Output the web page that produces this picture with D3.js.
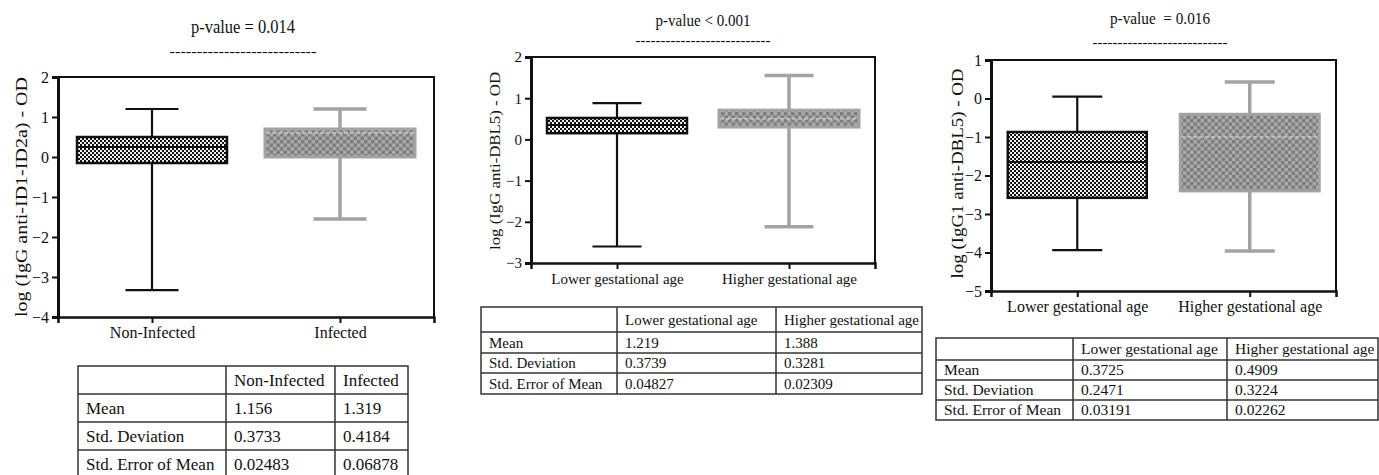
<!DOCTYPE html>
<html>
<head>
<meta charset="utf-8">
<script src="https://cdn.jsdelivr.net/npm/d3@7"></script>
<style>
  body { margin: 0; background: #fff; }
  svg, svg text { font-family: "Liberation Serif", "Times New Roman", serif; }
</style>
</head>
<body>
<div class="chart"></div>
<script>
// ---- data ----
var groups1 = ['Non-Infected', 'Infected']
var min1 = [-3.33, -1.55]
var q1_1 = [-0.15, 0.0]
var med1 = [0.25, 0.6]
var q3_1 = [0.5, 0.7]
var max1 = [1.2, 1.2]
var ticks1 = [-4, -3, -2, -1, 0, 1, 2]

var groups2 = ['Lower gestational age', 'Higher gestational age']
var min2 = [-2.6, -2.12]
var q1_2 = [0.15, 0.3]
var med2 = [0.35, 0.5]
var q3_2 = [0.52, 0.71]
var max2 = [0.88, 1.55]
var ticks2 = [-3, -2, -1, 0, 1, 2]

var groups3 = ['Lower gestational age', 'Higher gestational age']
var min3 = [-3.94, -3.96]
var q1_3 = [-2.58, -2.4]
var med3 = [-1.65, -1.0]
var q3_3 = [-0.87, -0.41]
var max3 = [0.05, 0.43]
var ticks3 = [-5, -4, -3, -2, -1, 0, 1]

var rowLabels = ['Mean', 'Std. Deviation', 'Std. Error of Mean']
var table1Mean = ['1.156', '1.319']
var table1SD = ['0.3733', '0.4184']
var table1SEM = ['0.02483', '0.06878']
var table2Mean = ['1.219', '1.388']
var table2SD = ['0.3739', '0.3281']
var table2SEM = ['0.04827', '0.02309']
var table3Mean = ['0.3725', '0.4909']
var table3SD = ['0.2471', '0.3224']
var table3SEM = ['0.03191', '0.02262']

var W = 1379, H = 475
var SERIF = '"Liberation Serif", "Times New Roman", serif'

var svg = d3.select('.chart').append('svg')
    .attr('width', W)
    .attr('height', H)

// checker patterns for the boxes
var defs = svg.append('defs')
var pb = defs.append('pattern').attr('id', 'checkBlack')
    .attr('patternUnits', 'userSpaceOnUse').attr('width', 4).attr('height', 4)
pb.append('rect').attr('width', 4).attr('height', 4).attr('fill', '#f2f2f2')
pb.append('rect').attr('width', 2).attr('height', 2).attr('fill', '#111')
pb.append('rect').attr('x', 2).attr('y', 2).attr('width', 2).attr('height', 2).attr('fill', '#111')

var pg = defs.append('pattern').attr('id', 'checkGray')
    .attr('patternUnits', 'userSpaceOnUse').attr('width', 7).attr('height', 7)
pg.append('rect').attr('width', 7).attr('height', 7).attr('fill', '#a9a9a9')
pg.append('rect').attr('width', 3.5).attr('height', 3.5).attr('fill', '#7e7e7e')
pg.append('rect').attr('x', 3.5).attr('y', 3.5).attr('width', 3.5).attr('height', 3.5).attr('fill', '#7e7e7e')

var styles = [
    {stroke: '#111', fill: 'url(#checkBlack)', boxW: 2.5, whW: 2.2, med: '#111', medW: 2, medDash: null},
    {stroke: '#a3a3a3', fill: 'url(#checkGray)', boxW: 3, whW: 3.5, med: '#c9c9c9', medW: 1.6, medDash: '4,2'}
]

function draw_panel(p) {
    var g = svg.append('g')

    var y = d3.scaleLinear().domain(p.domain).range([p.bottom, p.top])
    var x = d3.scalePoint().domain(p.groups).range([p.left, p.right]).padding(0.5)

    var boxes = p.groups.map(function(d, i) {
        return {name: d, lo: p.min[i], q1: p.q1[i], med: p.med[i], q3: p.q3[i], hi: p.max[i], s: styles[i]}
    })

    // frame (top, right)
    g.append('path')
        .attr('d', 'M' + p.left + ',' + p.top + 'H' + p.right + 'V' + p.bottom)
        .attr('fill', 'none').attr('stroke', '#111').attr('stroke-width', 2)

    // axes
    var yAx = g.append('g')
        .attr('transform', 'translate(' + p.left + ',0)')
        .call(d3.axisLeft(y).tickValues(p.ticks).tickSize(6).tickPadding(3).tickFormat(d3.format('d')))
        .attr('font-family', SERIF).attr('font-size', p.tickFont)
    var xAx = g.append('g')
        .attr('transform', 'translate(0,' + p.bottom + ')')
        .call(d3.axisBottom(x).tickSize(6).tickPadding(4))
        .attr('font-family', SERIF).attr('font-size', p.labelFont)
    yAx.select('.domain').attr('stroke-width', 3).attr('stroke', '#111')
    xAx.select('.domain').attr('stroke-width', 2.5).attr('stroke', '#111')
    g.selectAll('.tick line').attr('stroke-width', 2).attr('stroke', '#111')
    g.selectAll('.tick text').attr('fill', '#111')

    var bg = g.append('g').selectAll('g').data(boxes).enter().append('g')

    // whisker stem
    bg.append('line')
        .attr('x1', function(d){return x(d.name)}).attr('x2', function(d){return x(d.name)})
        .attr('y1', function(d){return y(d.lo)}).attr('y2', function(d){return y(d.hi)})
        .attr('stroke', function(d){return d.s.stroke}).attr('stroke-width', function(d){return d.s.whW})
    // caps
    bg.selectAll('.cap').data(function(d){return [d.lo, d.hi].map(function(v){return {v: v, b: d}})})
        .enter().append('line').attr('class', 'cap')
        .attr('x1', function(d){return x(d.b.name) - p.capW / 2})
        .attr('x2', function(d){return x(d.b.name) + p.capW / 2})
        .attr('y1', function(d){return y(d.v)}).attr('y2', function(d){return y(d.v)})
        .attr('stroke', function(d){return d.b.s.stroke}).attr('stroke-width', function(d){return d.b.s.whW})
    // box
    bg.append('rect')
        .attr('x', function(d){return x(d.name) - p.boxW / 2})
        .attr('width', p.boxW)
        .attr('y', function(d){return y(d.q3)})
        .attr('height', function(d){return y(d.q1) - y(d.q3)})
        .attr('fill', function(d){return d.s.fill})
        .attr('stroke', function(d){return d.s.stroke})
        .attr('stroke-width', function(d){return d.s.boxW})
    // median
    bg.append('line')
        .attr('x1', function(d){return x(d.name) - p.boxW / 2 + 1})
        .attr('x2', function(d){return x(d.name) + p.boxW / 2 - 1})
        .attr('y1', function(d){return y(d.med)}).attr('y2', function(d){return y(d.med)})
        .attr('stroke', function(d){return d.s.med}).attr('stroke-width', function(d){return d.s.medW})
        .attr('stroke-dasharray', function(d){return d.s.medDash})

    // y label
    g.append('text')
        .attr('transform', 'translate(' + p.ylabX + ',' + ((p.top + p.bottom) / 2 + p.ylabShift) + ') rotate(-90)')
        .attr('text-anchor', 'middle').attr('dy', '0.35em')
        .attr('font-size', p.ylabFont)
        .attr('textLength', p.ylabLen).attr('lengthAdjust', 'spacingAndGlyphs')
        .attr('fill', '#111')
        .text(p.ylabel)

    // p-value title and dashed rule
    g.append('text')
        .attr('x', p.titleX).attr('y', p.titleY)
        .attr('text-anchor', 'middle').attr('dy', '0.35em')
        .attr('font-size', p.titleFont).attr('fill', '#111')
        .style('white-space', 'pre')
        .attr('textLength', p.titleLen).attr('lengthAdjust', 'spacingAndGlyphs')
        .text(p.title)
    g.append('text')
        .attr('x', p.titleX).attr('y', p.dashY)
        .attr('text-anchor', 'middle').attr('dy', '0.35em')
        .attr('font-size', 14).attr('fill', '#111')
        .attr('textLength', p.dashLen).attr('lengthAdjust', 'spacingAndGlyphs')
        .text('---------------------------')
}

function draw_table(t) {
    var g = svg.append('g')
    var rows = [[''].concat(t.cols)].concat(rowLabels.map(function(r, i) {
        return [r].concat(t.values[i])
    }))
    var colX = d3.scaleOrdinal().domain([0, 1, 2, 3]).range(t.colX)
    var rowY = d3.scaleOrdinal().domain([0, 1, 2, 3, 4]).range(t.rowY)

    g.append('rect')
        .attr('x', colX(0)).attr('y', rowY(0))
        .attr('width', colX(3) - colX(0)).attr('height', rowY(4) - rowY(0))
        .attr('fill', 'none').attr('stroke', '#333').attr('stroke-width', 1.5)
    g.selectAll('.hl').data([1, 2, 3]).enter().append('line')
        .attr('x1', colX(0)).attr('x2', colX(3))
        .attr('y1', function(d){return rowY(d)}).attr('y2', function(d){return rowY(d)})
        .attr('stroke', '#333').attr('stroke-width', 1.5)
    g.selectAll('.vl').data([1, 2]).enter().append('line')
        .attr('y1', rowY(0)).attr('y2', rowY(4))
        .attr('x1', function(d){return colX(d)}).attr('x2', function(d){return colX(d)})
        .attr('stroke', '#333').attr('stroke-width', 1.5)

    rows.forEach(function(row, ri) {
        row.forEach(function(cell, ci) {
            g.append('text')
                .attr('x', colX(ci) + t.pad)
                .attr('y', (rowY(ri) + rowY(ri + 1)) / 2)
                .attr('dy', '0.35em')
                .attr('font-family', SERIF)
                .attr('font-size', t.font).attr('fill', '#111')
                .text(cell)
        })
    })
}

draw_panel({groups: groups1, min: min1, q1: q1_1, med: med1, q3: q3_1, max: max1, ticks: ticks1,
    domain: [-4, 2], left: 58, right: 434, top: 77, bottom: 317, boxW: 150, capW: 53,
    tickFont: 16, labelFont: 16,
    ylabel: 'log (IgG anti-ID1-ID2a) - OD', ylabX: 21, ylabShift: 0, ylabFont: 17, ylabLen: 240,
    title: 'p-value = 0.014', titleX: 243, titleY: 27, titleFont: 18, titleLen: 104, dashY: 51, dashLen: 147})

draw_panel({groups: groups2, min: min2, q1: q1_2, med: med2, q3: q3_2, max: max2, ticks: ticks2,
    domain: [-3, 2], left: 531, right: 875, top: 57, bottom: 263, boxW: 140, capW: 49,
    tickFont: 15, labelFont: 15,
    ylabel: 'log (IgG anti-DBL5) - OD', ylabX: 495, ylabShift: 1, ylabFont: 15, ylabLen: 178,
    title: 'p-value < 0.001', titleX: 703, titleY: 20, titleFont: 16.5, titleLen: 95, dashY: 40, dashLen: 135})

draw_panel({groups: groups3, min: min3, q1: q1_3, med: med3, q3: q3_3, max: max3, ticks: ticks3,
    domain: [-5, 1], left: 991, right: 1336, top: 60, bottom: 291, boxW: 139, capW: 50,
    tickFont: 16, labelFont: 16,
    ylabel: 'log (IgG1 anti-DBL5) - OD', ylabX: 957, ylabShift: -2, ylabFont: 16, ylabLen: 210,
    title: 'p-value  = 0.016', titleX: 1160, titleY: 18, titleFont: 16.5, titleLen: 100, dashY: 42, dashLen: 135})

draw_table({cols: groups1, values: [table1Mean, table1SD, table1SEM],
    colX: [78, 226, 335, 408], rowY: [366, 394, 422, 450, 478], font: 17, pad: 8})
draw_table({cols: groups2, values: [table2Mean, table2SD, table2SEM],
    colX: [481, 617, 776, 922], rowY: [307, 332, 353, 373, 394], font: 15, pad: 8})
draw_table({cols: groups3, values: [table3Mean, table3SD, table3SEM],
    colX: [936, 1073, 1227, 1378], rowY: [338, 360, 380, 400, 420], font: 15.5, pad: 8})
</script>
</body>
</html>
